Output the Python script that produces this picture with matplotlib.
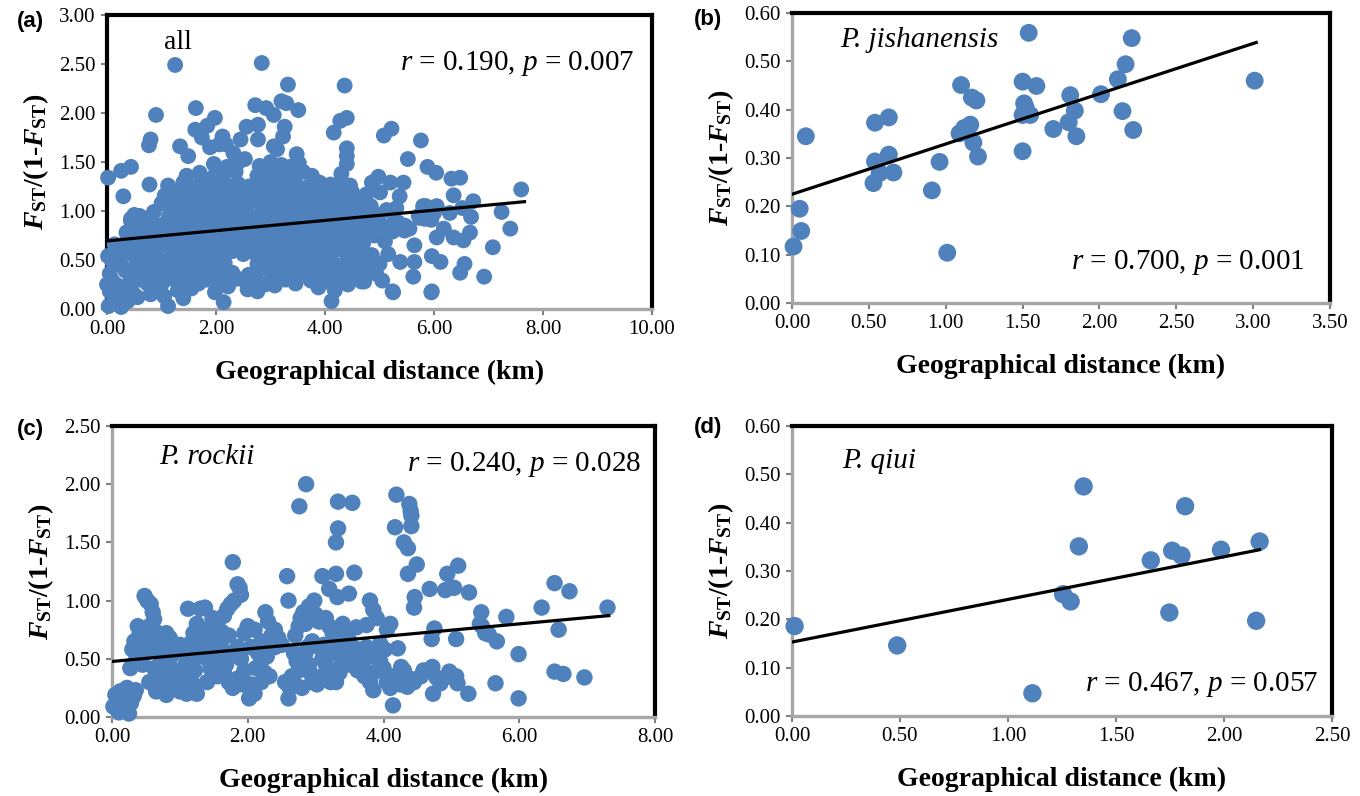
import numpy as np
import matplotlib.pyplot as plt
from matplotlib.ticker import MultipleLocator, FormatStrFormatter

plt.rcParams['font.family'] = 'Liberation Serif'
plt.rcParams['mathtext.fontset'] = 'custom'
plt.rcParams['mathtext.rm'] = 'Liberation Serif'
plt.rcParams['mathtext.it'] = 'Liberation Serif:italic'
plt.rcParams['mathtext.bf'] = 'Liberation Serif:bold'
plt.rcParams['mathtext.bfit'] = 'Liberation Serif:italic:bold'

BLUE = '#4f81bd'
GRAY = '#a6a6a6'

# ---------------- (a) all populations ----------------
all_dist = [
    0.03, 0.12, 0.26, 0.38, 1.12, 1.40, 2.14, 4.12,
    0.05, 0.16, 0.30, 0.48, 0.56, 0.80, 0.95, 1.05, 1.30, 1.55, 1.98, 2.22, 2.58, 2.76, 3.08, 3.88, 4.18, 4.42, 4.72, 5.25, 5.95,
    0.00, 0.10, 0.20, 0.42, 0.60, 0.74, 0.88, 1.00, 1.18, 1.34, 1.50, 1.68, 1.84, 2.04, 2.24, 2.40, 2.56, 2.72, 2.90, 3.10, 3.28, 3.46, 3.74, 3.96, 4.16, 4.34, 4.50, 5.05,
    0.05, 0.34, 0.50, 0.66, 0.80, 0.96, 1.10, 1.26, 1.44, 1.60, 1.76, 1.94, 2.10, 2.30, 2.60, 2.80, 3.00, 3.18, 3.36, 3.54, 3.70, 3.90, 4.08, 4.28, 4.48, 4.68, 4.94,
    0.10, 0.26, 0.54, 0.70, 0.86, 1.00, 1.16, 1.32, 1.48, 1.66, 1.84, 2.00, 2.16, 2.76, 2.92, 3.06, 3.24, 3.42, 3.60, 3.78, 3.96, 4.14, 4.34, 4.56, 4.80, 5.00,
    0.02, 0.30, 0.46, 0.62, 0.76, 0.92, 1.20, 1.40, 1.60, 1.78, 1.96, 2.12, 2.30, 2.50, 2.68, 2.84, 3.00, 3.16, 3.32, 3.50, 3.66, 3.84, 4.00, 4.20, 4.40, 4.60, 4.86,
    0.14, 0.36, 0.54, 0.70, 0.90, 1.06, 1.24, 1.44, 1.60, 1.76, 1.90, 2.06, 2.22, 2.40, 2.56, 2.80, 2.96, 3.12, 3.30, 3.46, 3.62, 3.80, 3.96, 4.12, 4.30, 4.50, 4.70, 5.10,
    0.36, 0.50, 0.66, 0.84, 1.00, 1.20, 1.36, 1.52, 1.70, 1.86, 2.02, 2.20, 2.36, 2.54, 2.70, 2.88, 3.04, 3.20, 3.40, 3.56, 3.74, 3.90, 4.06, 4.26, 4.46, 4.66, 4.90, 5.24, 5.46,
    0.44, 0.60, 0.80, 0.96, 1.10, 1.30, 1.46, 1.64, 1.80, 1.96, 2.14, 2.30, 2.50, 2.66, 2.84, 3.00, 3.16, 3.34, 3.50, 3.70, 3.86, 4.00, 4.20, 4.40, 4.60, 4.80, 5.00, 5.20,
    0.50, 0.86, 1.14, 1.34, 1.50, 1.70, 1.90, 2.06, 2.24, 2.40, 2.56, 2.80, 2.96, 3.10, 3.26, 3.44, 3.60, 3.80, 3.96, 4.14, 4.30, 4.50, 4.70, 4.96,
    1.00, 1.20, 1.40, 1.56, 1.74, 1.90, 2.10, 2.26, 2.44, 2.60, 2.76, 2.90, 3.06, 3.20, 3.36, 3.54, 3.70, 3.86, 4.04, 4.20, 4.40, 4.60, 4.84,
    1.06, 1.26, 1.44, 1.60, 1.80, 2.00, 2.16, 2.34, 2.50, 2.70, 2.86, 3.00, 3.16, 3.30, 3.50, 3.66, 3.80, 4.00, 4.16, 4.34, 4.50, 4.76,
    1.12, 1.40, 1.64, 1.86, 2.04, 2.20, 2.40, 2.60, 2.80, 2.96, 3.10, 3.30, 3.46, 3.70, 3.90, 4.10, 4.30, 4.46,
    1.46, 1.70, 1.96, 2.14, 2.36, 2.76, 2.90, 3.06, 3.24, 3.40, 3.60, 3.76, 4.30,
    1.96, 2.20, 2.40, 2.80, 3.00, 3.20, 3.36, 3.52,
    1.25, 2.84, 3.32, 0.90, 1.63, 1.98, 1.84, 2.72, 2.92, 3.20, 3.29, 3.06, 3.51, 1.62, 1.74, 0.80, 0.77, 1.34, 1.49, 1.89,
    2.12, 2.06, 2.18, 2.45, 2.56, 2.77, 2.77, 3.26, 3.23, 3.06, 3.12, 3.48, 2.53, 2.32, 0.02, 0.26, 0.44, 0.78, 0.30,
    4.36, 4.28, 4.40, 4.16, 5.08, 5.22, 5.76, 4.40, 4.40, 4.40, 5.52, 5.88, 6.04, 6.32, 6.48, 7.60, 6.36, 6.72, 7.24, 7.40,
    7.08, 6.68, 6.52, 6.29, 6.05, 6.36, 6.54, 6.66, 5.96, 6.12, 6.48, 6.56, 6.92, 5.64, 5.64, 5.62, 5.96, 5.24, 5.38, 5.16,
    4.67, 5.74, 5.83, 5.47, 5.28, 5.31, 5.37, 5.20, 5.44, 4.98, 4.86, 5.01, 5.13, 5.80, 5.86, 6.05,
    5.10, 5.35, 5.55, 5.72, 5.85, 5.95, 6.00, 6.18, 0.44, 0.60, 0.36, 0.04,
]
all_fst = [
    0.03, 0.06, 0.02, 0.08, 0.03, 0.11, 0.07, 0.08,
    0.18, 0.14, 0.20, 0.16, 0.12, 0.15, 0.22, 0.13, 0.19, 0.21, 0.17, 0.23, 0.20, 0.18, 0.24, 0.22, 0.19, 0.25, 0.28, 0.17, 0.17,
    0.25, 0.29, 0.24, 0.27, 0.30, 0.26, 0.28, 0.25, 0.31, 0.27, 0.29, 0.26, 0.30, 0.28, 0.26, 0.31, 0.27, 0.29, 0.25, 0.28, 0.30, 0.26, 0.29, 0.27, 0.31, 0.28, 0.30, 0.29,
    0.36, 0.39, 0.35, 0.38, 0.40, 0.36, 0.39, 0.37, 0.35, 0.40, 0.38, 0.36, 0.39, 0.37, 0.35, 0.40, 0.38, 0.36, 0.39, 0.37, 0.41, 0.36, 0.38, 0.40, 0.37, 0.39, 0.36,
    0.48, 0.45, 0.47, 0.50, 0.46, 0.49, 0.47, 0.45, 0.50, 0.48, 0.46, 0.49, 0.47, 0.46, 0.49, 0.47, 0.50, 0.45, 0.48, 0.46, 0.49, 0.47, 0.45, 0.50, 0.48, 0.46,
    0.54, 0.58, 0.56, 0.60, 0.57, 0.55, 0.59, 0.56, 0.58, 0.55, 0.60, 0.57, 0.59, 0.56, 0.58, 0.55, 0.60, 0.57, 0.56, 0.59, 0.57, 0.55, 0.58, 0.60, 0.56, 0.58, 0.55,
    0.66, 0.69, 0.65, 0.68, 0.70, 0.66, 0.68, 0.65, 0.70, 0.67, 0.69, 0.66, 0.68, 0.70, 0.65, 0.67, 0.69, 0.66, 0.70, 0.68, 0.65, 0.67, 0.69, 0.66, 0.68, 0.70, 0.67, 0.69,
    0.78, 0.75, 0.79, 0.76, 0.78, 0.80, 0.76, 0.78, 0.75, 0.79, 0.77, 0.80, 0.76, 0.78, 0.75, 0.79, 0.77, 0.80, 0.76, 0.78, 0.75, 0.79, 0.77, 0.80, 0.76, 0.78, 0.75, 0.79, 0.80,
    0.90, 0.86, 0.88, 0.85, 0.89, 0.87, 0.90, 0.86, 0.88, 0.85, 0.89, 0.87, 0.90, 0.86, 0.88, 0.85, 0.89, 0.87, 0.90, 0.86, 0.88, 0.85, 0.89, 0.87, 0.90, 0.86, 0.88, 0.85,
    0.96, 0.99, 0.95, 0.98, 1.00, 0.96, 0.99, 0.97, 0.95, 1.00, 0.98, 0.96, 0.99, 0.97, 1.00, 0.95, 0.98, 0.96, 0.99, 0.97, 1.00, 0.95, 0.98, 0.96,
    1.08, 1.05, 1.09, 1.06, 1.10, 1.07, 1.05, 1.09, 1.06, 1.08, 1.10, 1.05, 1.07, 1.09, 1.06, 1.08, 1.05, 1.10, 1.07, 1.09, 1.06, 1.08, 1.05,
    1.16, 1.19, 1.15, 1.18, 1.20, 1.16, 1.18, 1.15, 1.19, 1.17, 1.20, 1.16, 1.18, 1.15, 1.19, 1.17, 1.20, 1.16, 1.18, 1.15, 1.19, 1.17,
    1.26, 1.29, 1.25, 1.28, 1.30, 1.26, 1.28, 1.25, 1.29, 1.27, 1.30, 1.26, 1.28, 1.25, 1.29, 1.27, 1.30, 1.26,
    1.36, 1.39, 1.35, 1.38, 1.40, 1.36, 1.38, 1.35, 1.39, 1.37, 1.40, 1.36, 1.38,
    1.48, 1.45, 1.49, 1.46, 1.50, 1.47, 1.45, 1.49,
    2.49, 2.51, 2.29, 1.98, 2.05, 1.95, 1.87, 2.08, 2.05, 2.12, 2.10, 1.98, 2.03, 1.83, 1.75, 1.73, 1.67, 1.66, 1.56, 1.65,
    1.76, 1.68, 1.68, 1.73, 1.86, 1.88, 1.73, 1.86, 1.76, 1.66, 1.63, 1.58, 1.53, 1.59, 1.34, 1.41, 1.45, 1.27, 1.15,
    2.28, 1.92, 1.95, 1.80, 1.77, 1.84, 1.72, 1.64, 1.56, 1.48, 1.53, 1.45, 1.39, 1.33, 1.34, 1.22, 1.16, 1.10, 0.99, 0.82,
    0.63, 0.94, 1.03, 0.98, 0.73, 0.73, 0.70, 0.78, 0.18, 0.48, 0.37, 0.46, 0.33, 0.65, 0.48, 0.33, 0.54, 0.18, 0.48, 0.56,
    0.28, 0.93, 0.92, 0.85, 0.90, 1.03, 1.15, 1.29, 1.29, 1.35, 1.29, 1.19, 1.01, 1.05, 0.99, 1.05,
    0.84, 0.88, 0.82, 0.95, 1.05, 0.91, 0.98, 0.82, 0.92, 0.95, 0.78, 0.54,
]

# ---------------- (b) P. jishanensis ----------------
jis_dist = [0.01, 0.05, 0.06, 0.09, 0.54, 0.54, 0.53, 0.57, 0.63, 0.63, 0.66, 0.91, 0.96, 1.01,
            1.10, 1.09, 1.12, 1.16, 1.14, 1.17, 1.20, 1.18, 1.21, 1.50, 1.51, 1.52, 1.50, 1.55,
            1.54, 1.59, 1.50, 1.70, 1.81, 1.80, 1.84, 1.85, 2.01, 2.12, 2.17, 2.21, 2.15, 2.22, 3.01]
jis_fst = [0.117, 0.195, 0.149, 0.345, 0.373, 0.293, 0.248, 0.269, 0.384, 0.307, 0.270, 0.233, 0.292, 0.104,
           0.451, 0.351, 0.362, 0.369, 0.357, 0.425, 0.419, 0.332, 0.303, 0.458, 0.413, 0.405, 0.389, 0.389,
           0.559, 0.449, 0.314, 0.360, 0.430, 0.374, 0.398, 0.345, 0.432, 0.463, 0.494, 0.548, 0.397, 0.358, 0.460]

# ---------------- (c) P. rockii ----------------
roc_dist = [
    2.86, 2.76, 3.33, 3.54, 3.33, 3.30, 4.19, 4.38, 4.40, 4.41, 4.17, 4.41, 4.30, 4.36, 4.49, 4.36, 4.46, 4.45, 1.78, 1.85,
    1.88, 2.58, 2.60, 3.10, 3.30, 3.57, 3.20, 3.32, 3.49, 4.68, 4.94, 5.10, 4.91, 5.04, 5.26, 5.44, 5.81, 6.33, 6.52, 6.74,
    6.58, 7.30, 6.96, 6.52, 6.65, 5.99, 5.99, 5.65, 5.25, 5.07, 5.42, 5.55, 5.67, 4.71, 4.75, 4.73, 4.14, 4.39, 4.26, 4.21,
    0.02, 0.05, 0.08, 0.12, 0.15, 0.18, 0.22, 0.25, 0.28, 0.32, 0.35, 0.10,
    0.27, 0.30, 0.33, 0.38, 0.45, 0.36, 0.45, 0.48, 0.52, 0.42, 0.50,
    0.57, 0.60, 0.62, 0.55, 0.65, 0.70, 0.60, 0.75, 0.80, 0.85, 0.55, 0.65, 0.72, 0.80, 0.75, 0.85, 0.90, 0.95, 0.88, 0.80, 0.68, 0.58,
    1.00, 1.05, 1.10, 1.15, 1.20, 1.25, 1.12, 1.15, 1.20, 1.12, 1.30, 1.37, 1.25, 1.30, 1.35, 1.40, 1.45, 1.50, 1.55, 1.45, 1.52, 1.58, 1.60, 1.62, 1.35, 1.28,
    1.65, 1.70, 1.75, 1.80, 1.72, 1.70, 1.68, 1.65, 1.72, 1.78, 1.85, 1.90, 1.95, 1.95, 1.85, 1.90,
    2.00, 2.05, 2.10, 2.15, 2.20, 2.26, 2.30, 2.35, 2.45, 2.40, 2.05, 2.10, 2.02, 2.20, 2.25, 2.32, 2.20, 2.40,
    2.55, 2.60, 2.62, 2.65, 2.70, 2.75, 2.70, 2.78, 2.82, 2.85, 2.90, 2.85, 2.90, 2.80, 2.95, 2.95, 2.98, 3.00, 2.75, 2.88,
    3.05, 3.10, 3.15, 3.10, 3.20, 3.20, 3.25, 3.30, 3.30, 3.35, 3.40, 3.45, 3.50, 3.55, 3.60, 3.05, 3.15, 3.40, 3.25, 3.50,
    3.65, 3.70, 3.75, 3.80, 3.85, 3.90, 3.85, 3.80, 3.85, 3.90, 3.95, 4.00, 4.05, 4.10, 4.05, 4.10, 3.75, 3.80, 3.95, 4.15,
    4.20, 4.25, 4.30, 4.45, 4.55, 4.35,
    4.59, 4.72, 4.78, 4.88, 4.97, 5.07, 5.09, 4.84, 5.45, 5.50,
    0.40, 0.48, 0.62, 0.70, 0.92, 1.00, 1.08, 1.18, 1.22, 1.40, 1.42, 1.48, 1.55, 1.62, 2.50,
    2.68, 2.72, 2.92, 3.02, 3.12, 3.22, 3.38, 3.48, 3.62, 3.72, 3.92, 4.02, 2.12, 2.28, 1.92,
]
roc_fst = [
    2.00, 1.81, 1.85, 1.84, 1.62, 1.50, 1.91, 1.83, 1.77, 1.73, 1.63, 1.64, 1.50, 1.45, 1.31, 1.23, 1.03, 0.94, 1.33, 1.14,
    1.11, 1.21, 1.00, 1.21, 1.23, 1.24, 1.10, 1.03, 1.06, 1.10, 1.23, 1.30, 1.09, 1.11, 1.07, 0.90, 0.86, 0.94, 1.15, 1.08,
    0.75, 0.94, 0.34, 0.39, 0.37, 0.54, 0.16, 0.29, 0.20, 0.67, 0.80, 0.71, 0.65, 0.67, 0.76, 0.20, 0.10, 0.33, 0.43, 0.59,
    0.09, 0.19, 0.13, 0.22, 0.08, 0.16, 0.25, 0.03, 0.12, 0.18, 0.23, 0.04,
    0.42, 0.58, 0.65, 0.78, 0.72, 0.50, 0.45, 1.04, 1.00, 0.62, 0.55,
    0.97, 0.90, 0.84, 0.78, 0.73, 0.66, 0.60, 0.58, 0.72, 0.68, 0.30, 0.22, 0.25, 0.35, 0.45, 0.50, 0.40, 0.35, 0.27, 0.19, 0.55, 0.68,
    0.22, 0.30, 0.20, 0.36, 0.28, 0.20, 0.52, 0.63, 0.72, 0.93, 0.93, 0.94, 0.80, 0.68, 0.58, 0.50, 0.63, 0.72, 0.80, 0.42, 0.47, 0.55, 0.62, 0.73, 0.75, 0.52,
    0.87, 0.93, 0.97, 1.00, 0.70, 0.55, 0.45, 0.38, 0.30, 0.25, 0.60, 0.50, 0.72, 0.40, 0.33, 1.05,
    0.78, 0.60, 0.75, 0.55, 0.65, 0.90, 0.82, 0.70, 0.68, 0.75, 0.28, 0.20, 0.16, 0.30, 0.38, 0.35, 0.48, 0.60,
    0.30, 0.16, 0.25, 0.35, 0.28, 0.78, 0.70, 0.85, 0.90, 0.80, 0.95, 0.55, 0.45, 0.25, 0.30, 0.65, 1.00, 0.88, 0.40, 0.60,
    0.60, 0.50, 0.45, 0.35, 0.40, 0.78, 0.72, 0.65, 0.30, 0.38, 0.55, 0.72, 0.65, 0.50, 0.77, 0.82, 0.85, 0.80, 0.55, 0.45,
    0.58, 0.48, 0.79, 1.00, 0.92, 0.85, 0.38, 0.30, 0.23, 0.55, 0.48, 0.42, 0.30, 0.25, 0.75, 0.80, 0.60, 0.52, 0.63, 0.35,
    0.30, 0.28, 0.40, 0.30, 0.35, 0.26,
    0.40, 0.43, 0.34, 0.33, 0.39, 0.35, 0.29, 0.29, 0.78, 0.72,
    0.70, 0.62, 0.42, 0.35, 0.55, 0.62, 0.45, 0.58, 0.40, 0.30, 0.68, 0.85, 0.35, 0.45, 0.62,
    0.55, 0.48, 0.38, 0.28, 0.62, 0.30, 0.45, 0.58, 0.40, 0.35, 0.40, 0.58, 0.42, 0.52, 0.28,
]

# ---------------- (d) P. qiui ----------------
qiu_dist = [0.012, 0.487, 1.113, 1.255, 1.290, 1.328, 1.350, 1.661, 1.747, 1.760, 1.803, 1.820, 1.986, 2.149, 2.165]
qiu_fst = [0.186, 0.146, 0.047, 0.252, 0.237, 0.351, 0.475, 0.322, 0.214, 0.342, 0.332, 0.434, 0.344, 0.197, 0.361]

# fitted lines: value at 0 km, last distance, value at last distance
fit_y0 = [0.695, 0.225, 0.477, 0.153]
fit_x1 = [7.66, 3.02, 7.32, 2.165]
fit_y1 = [1.095, 0.539, 0.871, 0.344]

stats = [r'$r$ = 0.190, $p$ = 0.007', r'$r$ = 0.700, $p$ = 0.001',
         r'$r$ = 0.240, $p$ = 0.028', r'$r$ = 0.467, $p$ = 0.057']
panel_tags = ['(a)', '(b)', '(c)', '(d)']

W, H = 1360, 796
fig = plt.figure(figsize=(W / 100, H / 100), dpi=100)


def px_axes(left, top, right, bottom):
    return fig.add_axes([left / W, 1 - bottom / H, (right - left) / W, (bottom - top) / H])


def style(ax, xmax, xstep, ymax, ystep, left_black=False):
    ax.set_xlim(0, xmax)
    ax.set_ylim(0, ymax)
    ax.xaxis.set_major_locator(MultipleLocator(xstep))
    ax.yaxis.set_major_locator(MultipleLocator(ystep))
    ax.xaxis.set_major_formatter(FormatStrFormatter('%.2f'))
    ax.yaxis.set_major_formatter(FormatStrFormatter('%.2f'))
    for s in ['top', 'right']:
        ax.spines[s].set_color('black')
        ax.spines[s].set_linewidth(3)
    ax.spines['bottom'].set_color(GRAY)
    ax.spines['bottom'].set_linewidth(2.4)
    ax.spines['left'].set_color('black' if left_black else GRAY)
    ax.spines['left'].set_linewidth(3 if left_black else 2.4)
    ax.tick_params(direction='out', length=4, width=1.5, color='#7f7f7f',
                   labelsize=15, pad=4)
    ax.set_xlabel('Geographical distance (km)', fontsize=20, fontweight='bold', labelpad=15)
    ax.set_ylabel(r'$\mathbfit{F}_{\mathbf{ST}}$/(1-$\mathbfit{F}_{\mathbf{ST}}$)',
                  fontsize=20, fontweight='bold', labelpad=6)


def draw(ax, xs, ys, k, size):
    ax.scatter(xs, ys, s=size, color=BLUE, edgecolors='none', zorder=3, clip_on=False)
    ax.plot([0, fit_x1[k]], [fit_y0[k], fit_y1[k]], color='black', lw=2.3, zorder=4)


ax_a = px_axes(107, 15, 652, 309)
style(ax_a, 10, 2, 3, 0.5, left_black=True)
draw(ax_a, all_dist, all_fst, 0, 130)
ax_a.text(0.13, 0.905, 'all', transform=ax_a.transAxes, fontsize=20, ha='center', va='center')
ax_a.text(0.968, 0.836, stats[0], transform=ax_a.transAxes, fontsize=21, ha='right', va='center')

ax_b = px_axes(792, 13, 1330, 303)
style(ax_b, 3.5, 0.5, 0.6, 0.1)
draw(ax_b, jis_dist, jis_fst, 1, 165)
ax_b.text(0.089, 0.906, 'P. jishanensis', transform=ax_b.transAxes, fontsize=21,
          style='italic', ha='left', va='center')
ax_b.text(0.954, 0.138, stats[1], transform=ax_b.transAxes, fontsize=21, ha='right', va='center')

ax_c = px_axes(112, 426, 655, 717)
style(ax_c, 8, 2, 2.5, 0.5)
draw(ax_c, roc_dist, roc_fst, 2, 140)
ax_c.text(0.086, 0.895, 'P. rockii', transform=ax_c.transAxes, fontsize=21,
          style='italic', ha='left', va='center')
ax_c.text(0.975, 0.868, stats[2], transform=ax_c.transAxes, fontsize=21, ha='right', va='center')

ax_d = px_axes(792, 426, 1332, 716)
style(ax_d, 2.5, 0.5, 0.6, 0.1)
draw(ax_d, qiu_dist, qiu_fst, 3, 175)
ax_d.text(0.092, 0.88, 'P. qiui', transform=ax_d.transAxes, fontsize=21,
          style='italic', ha='left', va='center')
ax_d.text(0.973, 0.107, stats[3], transform=ax_d.transAxes, fontsize=21, ha='right', va='center')

for tag, (x, y) in zip(panel_tags, [(30, 22), (708, 20), (30, 430), (708, 428)]):
    fig.text(x / W, 1 - y / H, tag, fontsize=16, fontweight='bold',
             family='Liberation Sans', ha='center', va='center')

fig.savefig('out.png', dpi=100)
